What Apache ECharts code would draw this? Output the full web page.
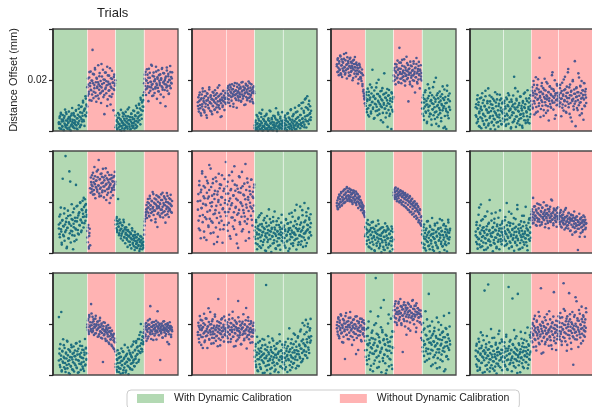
<!DOCTYPE html>
<html><head><meta charset="utf-8">
<script src="https://cdn.jsdelivr.net/npm/echarts@6/dist/echarts.min.js"></script>
<style>html,body{margin:0;padding:0;background:#fff;overflow:hidden}#c{width:592px;height:407px}</style>
</head><body><div id="c"></div>
<script>
// Values are distance offsets in units of 1e-4 mm (200 = 0.02 mm); each panel = 4 trial segments of samples.
// Two interleaved sample runs per segment (pN and pNb).
const segmentTypes = ['GRGR','RRGG','RGRG','GGRR']; // by column: G = with, R = without dynamic calibration
const segmentEdges = [-20,100,200,300,420];
const yTicks = ['', '0.02', ''];
const legendNames = ['With Dynamic Calibration','Without Dynamic Calibration'];

const p1 = [
[34,12,58,27,71,8,45,19,63,38,5,52,29,84,16,41,67,23,9,48,33,76,14,55,39,2,61,26,90,44,18,70,31,11,57,36,82,22,49,7,64,28,101,40,15,73,53,24,96,37,60,112,43,79,20,88,136,58,104,72],
[96,138,182,154,210,121,176,233,160,198,143,318,187,129,222,168,247,150,191,115,205,174,139,258,183,162,227,147,196,110,171,214,156,240,133,188,66,201,165,229,148,179,252,124,193,158,217,137,185,104,207,169,236,145,190,81,212,161,178,199],
[61,22,43,8,35,70,14,52,27,4,46,83,19,38,11,57,30,66,3,41,24,75,16,49,33,9,58,28,92,17,44,6,37,68,21,54,13,80,31,47,10,62,25,99,39,18,71,34,56,107,42,88,26,123,64,48,115,79,140,95],
[152,205,176,232,141,198,167,221,188,117,244,173,209,158,193,260,181,137,216,164,229,195,149,203,172,252,186,126,211,169,238,155,197,180,222,143,207,175,247,162,190,133,226,184,200,97,214,171,237,158,192,224,145,201,177,255,168,212,186,230]];
const p2 = [
[98,132,76,118,151,89,124,61,143,105,167,84,128,112,73,156,95,137,119,52,146,102,130,88,171,114,79,140,108,125,66,153,97,121,138,83,160,110,127,92,148,74,116,135,101,179,87,123,144,109,58,131,94,157,117,139,82,126,149,106],
[131,158,112,147,176,124,162,139,98,171,150,119,183,136,165,107,154,142,188,128,160,145,91,173,137,156,120,181,149,134,167,115,190,143,159,127,174,138,102,168,151,185,133,162,121,177,146,194,130,157,116,170,141,183,125,164,152,109,175,148],
[22,5,41,14,63,9,30,2,48,18,71,26,7,37,55,12,83,20,3,44,16,58,28,8,35,67,11,24,1,50,19,39,6,77,31,13,46,4,25,60,15,33,10,52,21,89,29,0,43,17,65,36,9,27,56,14,40,23,74,32],
[18,42,7,30,61,12,48,24,3,37,70,15,53,27,9,44,82,20,35,5,58,29,66,13,39,91,22,47,8,33,76,17,55,26,101,41,11,63,31,88,19,50,112,36,72,25,124,45,93,14,60,136,38,84,28,118,67,97,43,79]];
const p3 = [
[262,231,285,248,219,273,240,296,226,257,281,212,245,268,234,302,251,222,277,238,259,206,289,244,266,229,253,283,218,247,271,236,255,199,276,241,263,225,290,249,214,268,237,258,223,245,203,264,232,250,212,228,196,241,184,219,162,147,128,108],
[131,98,152,74,118,166,89,140,57,123,182,102,69,147,113,240,86,134,48,159,107,127,78,171,95,145,62,118,201,84,137,105,156,42,124,93,168,71,143,110,226,87,131,53,150,99,120,16,138,82,161,106,67,128,94,8,147,115,76,133],
[196,238,214,263,183,229,251,207,276,220,192,245,326,231,205,268,187,224,256,212,237,199,281,226,178,248,216,291,203,234,259,116,221,245,193,272,228,209,254,175,239,218,264,197,232,151,249,211,286,226,186,243,202,271,223,167,236,258,214,198],
[112,67,141,88,43,125,96,160,72,118,31,104,183,80,137,57,99,150,66,121,24,109,85,172,62,131,93,47,115,209,76,140,54,102,128,19,90,155,70,119,38,106,144,81,128,12,97,163,59,133,87,8,111,178,73,124,50,95,147,83]];
const p4 = [
[62,105,31,88,140,47,113,19,76,128,54,95,11,82,148,39,67,121,25,99,58,136,14,85,43,109,72,167,29,92,51,116,8,78,133,36,103,60,88,22,119,45,152,70,97,33,124,56,81,17,107,64,142,40,91,127,26,75,112,49],
[84,37,118,59,96,20,131,67,45,102,148,28,79,114,53,88,10,123,62,97,34,139,71,213,46,108,85,16,126,57,93,155,39,76,110,24,64,135,50,99,81,13,117,68,146,42,90,105,31,127,73,58,160,44,94,112,30,83,140,66],
[139,104,172,88,150,196,117,65,158,131,211,94,143,180,76,126,163,109,287,137,55,154,120,188,99,147,168,82,133,205,113,159,71,140,124,186,97,152,41,128,174,106,145,91,166,119,230,135,84,157,112,199,139,62,148,101,178,126,150,118],
[131,96,168,112,149,58,127,189,104,143,80,160,121,213,99,136,72,174,115,150,243,93,129,67,182,110,154,139,37,118,200,126,84,163,107,146,19,133,171,90,152,121,226,101,138,62,177,113,148,196,86,131,159,44,124,187,97,142,165,110]];
const p5 = [
[96,143,62,118,178,84,33,127,291,71,104,155,48,112,380,89,136,24,99,166,58,120,320,77,148,41,107,191,85,130,15,115,174,68,138,96,267,52,124,185,90,147,73,160,108,196,131,82,171,119,205,154,100,180,143,211,126,192,168,150],
[86,42,110,18,67,95,30,236,278,251,305,262,229,291,247,337,270,215,283,256,320,240,297,265,365,233,288,252,310,224,274,299,245,330,261,218,285,243,303,268,208,293,250,316,236,277,258,196,289,271,239,306,255,282,226,297,264,248,318,279],
[128,97,141,82,115,212,104,70,131,88,119,57,95,76,108,49,86,121,63,93,38,79,101,58,71,24,90,45,67,82,31,60,74,18,53,88,40,66,27,58,12,71,46,35,62,20,49,73,31,55,8,43,66,26,50,37,15,57,30,44],
[72,108,134,160,151,188,137,176,212,158,195,143,224,171,186,128,205,162,239,180,149,197,214,166,133,190,226,175,102,201,158,183,218,147,192,170,230,155,208,181,139,196,222,164,187,119,210,173,235,152,199,178,141,215,168,193,228,161,184,204]];
const p6 = [
[170,231,96,282,145,205,58,248,176,320,121,193,263,84,215,140,298,187,51,236,162,274,108,221,345,134,196,77,259,183,225,119,290,152,35,212,244,168,100,281,137,229,64,200,311,158,254,92,189,267,126,218,40,175,243,110,290,161,208,357],
[145,262,190,87,233,118,305,173,214,56,251,139,195,283,104,226,160,340,128,244,181,72,265,150,207,20,238,169,297,113,199,255,142,318,185,93,229,157,272,124,211,48,247,178,292,133,219,165,82,260,197,230,146,288,175,108,240,216,186,268],
[64,102,38,121,80,15,96,57,140,73,26,112,88,47,156,69,104,31,83,128,52,94,10,76,118,61,145,43,90,22,108,71,133,55,84,4,99,66,37,124,79,50,163,92,18,67,110,45,86,29,136,74,58,101,13,81,119,48,95,62],
[77,40,108,59,92,21,130,68,45,115,83,8,97,154,53,74,121,36,88,62,142,28,105,80,50,167,71,98,14,113,57,86,134,42,95,70,182,33,119,65,89,148,24,103,76,196,51,127,84,160,39,111,93,175,61,138,80,101,152,69]];
const p7 = [
[185,206,172,218,193,229,180,211,198,235,187,220,204,242,195,228,213,250,201,237,222,259,209,244,226,215,253,203,238,219,247,207,231,192,245,214,236,199,224,210,241,188,217,202,230,176,212,195,221,183,206,168,199,178,190,158,184,165,147,141],
[102,74,118,48,91,129,63,25,85,110,40,71,98,16,57,82,122,33,66,94,8,52,79,107,28,61,88,45,114,19,70,36,96,55,3,77,42,101,24,64,89,12,50,83,31,68,105,20,58,92,37,74,6,47,86,29,62,95,15,53],
[226,248,212,239,257,220,244,203,231,252,215,238,198,226,246,207,233,190,219,241,201,228,184,212,235,196,220,176,207,229,189,214,168,199,223,181,204,162,191,213,173,196,155,183,203,164,188,146,174,193,138,161,180,128,152,168,117,140,107,126],
[40,88,21,65,112,33,78,54,10,96,46,71,125,27,59,84,15,102,50,37,74,137,24,63,90,8,55,108,42,81,30,67,118,19,93,48,76,3,60,99,35,85,128,26,70,52,114,12,82,44,105,31,66,91,57,130,38,79,62,95]];
const p8 = [
[84,43,121,62,17,97,150,56,33,108,75,190,48,89,26,132,66,101,12,79,58,144,38,92,70,163,21,114,53,86,208,45,76,30,127,64,99,7,82,51,118,36,91,159,60,24,105,72,44,138,87,15,68,110,55,96,34,80,125,49],
[63,102,28,85,141,47,74,196,36,93,59,120,18,81,107,40,66,154,25,90,52,115,71,9,98,44,133,61,83,30,172,56,95,14,78,112,39,69,124,50,87,21,105,65,146,33,76,58,181,42,97,70,11,88,118,54,136,79,101,60],
[152,128,171,140,216,118,159,135,183,147,110,166,138,194,124,155,175,132,149,108,188,143,161,120,177,136,153,199,129,145,168,114,186,141,157,126,172,150,97,163,137,181,122,154,145,206,131,160,116,174,139,150,127,167,143,103,158,133,179,140],
[132,155,113,144,168,124,100,149,137,118,162,128,92,141,115,176,123,107,146,133,96,158,119,139,86,127,151,111,134,72,148,104,125,163,98,137,116,84,143,109,128,12,121,95,154,113,132,78,118,140,103,126,90,147,108,122,64,130,99,117]];
const p9 = [
[227,84,39,121,62,247,18,95,53,140,71,30,106,47,12,88,65,134,26,77,101,42,58,4,91,35,118,69,22,83,50,112,14,74,96,38,61,125,27,80,9,103,56,44,131,72,20,87,49,114,33,66,98,16,79,141,41,107,60,85],
[198,176,220,161,235,189,207,174,278,195,168,228,182,211,157,199,186,221,164,193,176,209,150,183,197,160,214,171,188,146,202,165,179,51,191,156,173,205,142,168,184,134,177,159,196,127,170,152,185,139,163,118,174,148,156,106,162,131,143,92],
[43,78,20,59,97,32,66,12,85,48,25,71,104,39,56,8,90,63,29,118,45,74,17,52,83,36,64,3,96,58,27,81,44,112,69,21,88,50,131,61,34,99,73,126,47,108,82,141,95,60,157,115,86,200,103,137,92,149,121,166],
[145,178,201,159,186,134,192,170,214,151,183,197,166,270,175,141,205,188,162,194,179,208,155,186,172,199,139,191,168,206,182,157,196,174,59,188,163,202,177,146,193,184,211,167,180,153,199,174,189,129,196,171,185,160,207,178,192,149,187,172]];
const p10 = [
[168,205,142,186,231,157,194,118,176,214,149,188,163,240,129,197,172,152,221,181,106,190,166,208,138,175,247,159,199,183,146,218,170,125,193,161,229,178,134,187,154,211,169,298,143,192,176,116,203,160,185,222,148,174,197,131,182,157,214,170],
[184,152,207,168,129,191,236,160,176,204,141,187,169,222,150,196,112,178,214,163,188,133,201,175,155,290,183,147,210,166,194,121,179,202,158,186,238,171,142,197,163,215,179,104,190,156,226,173,140,199,168,184,211,151,177,128,193,165,205,174],
[96,54,121,31,78,150,62,15,103,84,42,133,70,24,91,58,116,8,81,47,138,66,101,35,353,75,19,110,55,89,40,127,64,5,98,73,28,143,60,86,50,114,37,79,21,104,68,46,125,83,11,92,57,132,71,33,97,63,119,26],
[69,108,41,85,22,129,57,94,74,12,113,63,90,183,38,101,77,52,140,30,88,66,121,47,97,158,72,26,111,82,59,146,93,35,119,71,171,104,50,133,86,204,63,124,97,160,78,113,216,91,140,67,189,108,150,86,175,127,220,152]];
const p11 = [
[183,208,159,226,191,144,214,176,238,163,197,129,185,219,150,202,172,63,231,188,157,209,178,141,196,224,166,187,247,153,205,180,118,193,216,168,137,199,182,229,161,190,145,212,175,98,203,186,156,221,170,194,132,208,179,159,215,185,151,200],
[134,71,180,98,42,153,117,210,63,125,88,249,36,145,104,174,15,118,83,196,57,139,380,96,162,28,111,230,75,148,52,127,92,187,11,107,168,66,136,294,80,121,46,158,99,19,140,73,202,114,34,95,131,61,221,86,150,24,109,170],
[231,270,208,255,289,222,247,196,264,238,280,214,251,227,298,243,203,267,233,90,258,219,285,241,190,273,229,256,211,263,246,182,277,235,252,174,268,225,244,291,216,260,238,199,271,229,249,169,281,237,212,262,243,226,254,207,239,231,145,198],
[168,109,204,133,75,182,121,250,93,155,58,139,190,102,318,127,171,84,146,35,119,210,96,162,70,130,185,112,47,153,88,225,124,66,141,177,101,30,158,116,196,80,137,54,170,106,232,91,148,22,128,181,74,114,160,62,143,98,190,120]];
const p12 = [
[96,41,122,63,17,88,142,55,104,28,79,167,47,115,72,9,93,136,58,331,83,36,108,66,153,22,99,75,49,128,14,86,61,180,38,112,70,25,95,53,146,81,33,119,64,6,102,77,44,161,90,57,125,30,84,68,139,19,98,73],
[87,52,128,68,34,104,158,76,23,95,61,345,113,42,84,137,58,99,15,72,121,48,90,176,63,107,29,81,152,55,96,318,70,38,118,83,11,101,66,142,46,89,125,59,27,109,77,165,93,50,133,71,186,98,40,115,80,60,148,92],
[146,183,128,204,161,110,192,175,232,137,168,96,214,155,187,143,247,170,121,198,159,340,181,133,209,164,88,192,150,226,174,129,185,160,238,141,200,167,115,179,152,218,136,190,171,102,207,158,184,325,147,196,165,125,213,176,140,189,162,230],
[172,205,139,243,161,188,118,226,180,149,360,197,167,252,132,211,184,95,230,158,199,174,321,143,218,189,126,207,165,247,152,40,193,178,235,140,201,169,289,155,222,186,110,213,170,240,147,196,181,268,162,209,134,228,175,192,150,218,185,246]];

const p1b = [
[28,51,9,66,37,17,44,3,59,24,73,12,40,31,55,6,47,21,68,35,15,62,42,26,79,10,50,33,87,57,20,94,46,71,118,38,84,63,127,99],
[172,206,145,231,188,162,119,197,224,154,180,241,136,209,169,191,127,215,176,150,263,184,158,202,141,229,170,195,98,218,183,160,246,174,134,204,189,165,221,186],
[15,39,6,52,28,64,19,44,2,33,71,23,48,11,59,36,17,85,42,26,55,9,67,31,46,20,78,38,58,13,90,49,72,103,61,130,82,112,96,121],
[187,221,163,198,242,175,209,150,228,192,171,256,184,139,214,196,167,233,180,205,156,219,188,110,201,243,170,227,194,161,208,182,249,176,215,147,199,231,189,206]];
const p2b = [
[113,87,141,102,69,128,96,155,118,80,136,107,62,148,121,91,163,110,134,76,125,99,150,115,84,142,129,104,170,93,138,117,55,146,122,100,158,131,112,127],
[148,126,169,139,111,181,154,133,163,145,95,177,140,158,122,186,150,131,166,143,173,118,155,192,136,161,147,104,179,152,128,167,144,187,134,159,149,115,171,156],
[12,34,4,26,57,16,41,8,22,68,31,2,47,19,38,10,62,25,6,43,15,80,29,11,51,36,3,24,59,18,45,7,33,72,21,14,49,28,9,39],
[31,10,54,22,40,4,68,35,16,49,26,85,13,44,60,21,37,7,73,29,52,18,99,41,63,24,110,47,33,79,15,57,128,38,90,62,105,45,70,54]];
const p3b = [
[254,279,233,265,241,292,221,258,272,237,283,249,227,306,262,244,274,216,255,287,232,266,247,208,279,251,236,263,225,248,186,233,259,210,205,226,176,155,137,124],
[109,142,85,124,63,154,100,131,76,171,115,92,138,51,126,104,188,80,145,112,67,133,97,158,120,34,103,146,88,129,71,165,109,140,59,119,95,152,83,126],
[218,247,201,233,261,210,240,189,268,225,244,206,279,231,215,253,195,238,220,266,208,242,228,183,257,217,236,199,273,224,246,211,263,192,234,255,219,241,204,227],
[88,131,59,112,152,76,103,36,128,94,167,68,117,45,140,85,106,192,73,124,28,97,148,64,113,82,135,51,101,175,90,122,16,109,78,158,61,138,93,117]];
const p4b = [
[93,56,124,37,102,70,16,87,131,49,110,64,28,96,158,42,81,117,22,73,139,58,105,33,89,126,48,76,6,112,63,144,35,98,53,121,80,27,108,69],
[71,109,44,88,25,125,61,97,140,52,83,15,115,73,104,38,92,168,57,120,30,79,101,47,135,66,89,20,111,58,94,151,41,77,118,34,86,128,55,98],
[118,158,92,139,181,108,146,72,167,123,203,98,152,131,86,176,114,144,60,161,127,101,192,135,80,153,118,175,95,140,219,111,164,130,48,147,121,184,103,137],
[142,108,181,126,157,91,138,202,117,164,75,149,129,230,106,171,140,53,158,122,195,97,146,274,116,168,135,82,152,210,111,175,127,69,160,141,188,100,155,131]];
const p5b = [
[112,74,151,93,40,129,106,66,175,82,122,19,98,145,57,114,280,87,133,70,160,101,46,125,92,183,138,76,155,110,199,128,88,168,141,216,117,187,161,142],
[61,100,24,78,254,296,268,241,315,277,230,301,259,284,248,326,265,222,290,257,312,238,276,296,261,243,332,271,228,287,252,306,266,216,293,247,280,258,302,270],
[112,136,90,125,103,77,117,94,68,109,84,130,61,100,73,91,52,86,65,112,44,78,57,97,35,69,50,83,22,62,40,74,28,55,16,48,64,33,41,21],
[90,124,145,171,163,199,179,146,214,187,157,203,175,231,166,193,121,210,184,153,221,177,196,141,208,170,236,160,189,216,148,200,182,224,163,194,172,211,187,158]];
const p6b = [
[203,127,266,89,238,176,312,149,222,61,257,190,133,283,214,102,247,167,331,125,199,274,80,231,155,296,185,43,241,208,118,269,143,219,305,172,93,252,196,160],
[232,110,279,161,204,66,246,187,318,139,225,94,268,177,213,37,252,156,301,121,236,194,85,262,168,226,143,349,190,115,276,209,58,243,182,287,130,221,164,257],
[88,55,129,73,34,106,91,148,62,20,114,81,43,98,137,67,8,104,78,52,171,86,28,119,94,64,141,39,100,75,16,125,84,58,110,31,92,70,150,47],
[60,102,29,86,133,71,48,116,90,17,98,64,158,80,38,107,74,125,55,189,93,32,139,68,111,84,46,168,99,61,121,77,27,145,89,109,57,131,82,117]];
const p7b = [
[196,177,214,189,225,201,239,186,218,209,248,197,231,216,255,205,240,223,211,249,229,200,236,218,244,207,228,196,234,215,201,221,189,208,183,196,171,177,153,160],
[66,95,35,80,113,52,22,90,71,120,44,99,61,11,84,106,38,74,127,56,92,27,68,100,49,82,14,63,116,41,88,57,97,33,76,5,59,104,46,83],
[237,218,254,229,211,245,224,236,203,227,243,197,222,235,186,216,228,180,209,224,170,203,218,160,194,210,151,186,200,142,178,193,134,168,184,121,157,171,112,144],
[73,36,101,57,18,89,64,124,43,80,29,107,69,48,92,13,76,58,115,39,84,65,22,97,51,133,70,44,87,26,109,61,35,94,72,6,81,120,53,88]];
const p8b = [
[69,110,35,94,54,178,80,23,127,63,99,41,86,143,57,14,105,73,48,118,90,31,66,155,79,102,40,134,61,88,19,112,75,52,96,167,45,83,116,70],
[96,54,128,77,31,109,65,89,162,45,117,72,24,94,58,137,82,39,103,67,188,50,111,86,16,98,62,146,75,43,121,84,57,108,28,92,69,131,48,80],
[138,163,116,151,182,129,145,170,107,158,134,191,123,149,165,112,178,141,130,160,101,152,136,186,118,147,172,125,142,210,131,157,109,168,137,150,122,175,144,133],
[146,121,160,104,139,128,151,112,135,170,98,142,124,109,156,118,133,88,148,127,102,139,115,81,131,106,143,95,123,110,64,136,100,119,83,128,112,141,93,115]];
const p9b = [
[57,103,31,76,14,92,48,117,66,24,84,39,131,55,8,97,70,33,109,61,20,87,45,74,124,29,93,58,11,81,115,42,68,99,25,52,88,37,104,63],
[187,214,169,228,194,180,241,206,173,219,190,163,232,199,178,210,152,188,224,169,196,143,181,207,160,176,134,192,166,151,184,122,171,140,158,113,149,136,101,128],
[31,62,13,47,84,26,70,5,55,38,93,19,67,44,10,78,51,108,33,61,87,23,74,46,119,58,35,96,64,133,80,112,52,141,90,168,124,101,152,130],
[166,191,152,204,177,143,198,183,219,160,189,171,208,137,195,180,163,213,174,250,188,156,201,182,168,194,147,210,176,186,198,161,179,203,170,121,192,184,158,178]];
const p10b = [
[157,193,128,178,216,149,183,106,203,166,135,222,172,155,190,262,141,198,169,123,211,160,184,145,237,176,152,194,113,182,207,164,137,218,171,150,189,229,160,178],
[171,198,144,186,218,159,130,203,177,248,150,192,165,114,207,183,139,226,172,156,195,121,184,209,162,136,199,175,263,148,187,213,158,180,126,203,168,151,193,178],
[71,112,40,88,18,127,62,95,30,106,76,141,52,84,9,118,66,97,38,152,81,58,24,109,90,47,135,69,14,101,79,123,43,86,60,160,33,94,73,51],
[85,49,118,67,31,104,78,142,58,92,19,124,70,107,44,163,88,61,131,97,36,152,81,115,66,178,103,55,139,92,194,117,76,168,128,201,99,146,183,135]];
const p11b = [
[196,170,221,152,205,184,233,166,193,127,214,178,202,243,158,189,211,140,197,225,175,206,149,186,218,162,198,82,230,181,155,209,172,194,137,220,185,164,204,176],
[97,152,58,121,185,76,137,21,109,166,84,143,44,126,93,203,69,115,158,31,132,87,264,102,176,55,141,79,118,6,154,95,128,237,64,112,148,39,171,106],
[254,226,279,239,205,262,248,287,218,241,270,196,257,233,275,212,249,264,158,237,283,226,252,206,268,243,230,294,219,258,236,272,185,247,262,225,240,206,253,230],
[137,92,177,118,52,158,104,218,83,141,64,193,126,99,155,41,132,172,78,116,146,26,101,207,88,139,60,122,166,95,148,15,112,184,72,129,157,106,243,134]];
const p12b = [
[73,115,33,92,58,130,21,84,106,48,156,68,97,12,88,121,39,76,355,101,62,28,113,80,145,54,94,17,71,126,45,89,107,36,173,82,60,99,131,52],
[71,113,40,92,150,58,20,104,82,131,47,97,66,300,118,35,86,143,61,101,8,77,124,53,90,169,69,112,32,95,138,74,51,109,84,26,120,63,157,88],
[167,132,198,155,220,141,184,112,209,162,178,126,230,151,193,84,172,205,146,188,121,215,164,138,199,175,250,148,186,116,203,159,229,134,181,168,98,194,153,211],
[187,151,224,170,132,203,178,259,145,196,163,221,118,189,210,156,238,173,102,200,183,147,228,166,305,191,139,214,177,255,160,199,124,219,184,234,155,206,171,262]];

const panels = [p1,p2,p3,p4,p5,p6,p7,p8,p9,p10,p11,p12];
const panelsB = [p1b,p2b,p3b,p4b,p5b,p6b,p7b,p8b,p9b,p10b,p11b,p12b];

// layout (pixels)
const colLeft = [53,192,331,470], rowTop = [29,151,273], PW = 125, PH = 102;
const GREEN_BG = '#b3d9b3', RED_BG = '#ffb3b3';
const GREEN_PT = '#1e6f7f', RED_PT = '#4d5892';
const FONT = 'Liberation Sans';

const grids = [], xAxes = [], yAxes = [], series = [], frames = [];
panels.forEach((segs, k) => {
  const r = Math.floor(k/4), c = k % 4;
  const types = segmentTypes[c];
  grids.push({left: colLeft[c], top: rowTop[r], width: PW, height: PH, show: false});
  xAxes.push({gridIndex: k, type: 'value', min: -20, max: 420,
    axisLine: {show: false, onZero: false}, axisTick: {show: false}, axisLabel: {show: false}, splitLine: {show: false}});
  const ya = {gridIndex: k, type: 'value', min: 0, max: 0.04, interval: 0.02, z: 120, position: 'left',
    axisLine: {show: true, onZero: false, lineStyle: {color: '#2a2a2a', width: 1.6}}, splitLine: {show: false},
    axisTick: {show: true, length: 4, lineStyle: {color: '#222', width: 1.2}},
    axisLabel: {show: k === 0, margin: 6, fontFamily: FONT, fontSize: 10, color: '#222',
      formatter: (v) => yTicks[Math.round(v / 0.02)] || ''}};
  if (k === 0) {
    Object.assign(ya, {name: 'Distance Offset (mm)', nameLocation: 'middle', nameGap: 34,
      nameTextStyle: {fontFamily: FONT, fontSize: 11, color: '#222'}});
  }
  yAxes.push(ya);
  const gPts = [], rPts = [], areas = [];
  segs.forEach((vals, s) => {
    const x0 = s * 100;
    const isG = types[s] === 'G';
    const target = isG ? gPts : rPts;
    vals.forEach((v, i) => { target.push([x0 + (i + 0.5) * 100 / vals.length, v / 10000]); });
    const extra = panelsB[k][s];
    extra.forEach((v, j) => { target.push([x0 + (j + 0.25) * 100 / extra.length, v / 10000]); });
    areas.push([{xAxis: segmentEdges[s], itemStyle: {color: isG ? GREEN_BG : RED_BG}}, {xAxis: segmentEdges[s+1]}]);
  });
  series.push({type: 'scatter', name: legendNames[0], xAxisIndex: k, yAxisIndex: k, data: gPts,
    symbol: 'circle', symbolSize: 2.6, itemStyle: {color: GREEN_PT, opacity: 1}, z: 3, silent: true,
    markArea: {silent: true, itemStyle: {opacity: 1}, label: {show: false}, data: areas}});
  series.push({type: 'scatter', name: legendNames[1], xAxisIndex: k, yAxisIndex: k, data: rPts,
    symbol: 'circle', symbolSize: 2.6, itemStyle: {color: RED_PT, opacity: 1}, z: 3, silent: true,
    markLine: {silent: true, symbol: 'none', label: {show: false}, animation: false,
      lineStyle: {color: 'rgba(255,255,255,0.55)', width: 1, type: 'solid'},
      data: [{xAxis: segmentEdges[1]}, {xAxis: segmentEdges[2]}, {xAxis: segmentEdges[3]}]}});
  frames.push({type: 'rect', silent: true, z: 100,
    shape: {x: colLeft[c], y: rowTop[r], width: PW, height: PH},
    style: {fill: 'none', stroke: '#4a4a4a', lineWidth: 1.3}});
});

const chart = echarts.init(document.getElementById('c'), null, {renderer: 'canvas'});
chart.setOption({
  animation: false,
  backgroundColor: '#fff',
  title: {text: 'Trials', left: 97, top: 7, padding: 0,
    textStyle: {fontFamily: FONT, fontSize: 13, fontWeight: 'normal', color: '#222'}},
  legend: {left: 127, top: 390, orient: 'horizontal', selectedMode: false,
    padding: [3, 10, 5, 10], itemGap: 48, itemWidth: 27, itemHeight: 9,
    borderColor: '#cccccc', borderWidth: 1, borderRadius: 4, backgroundColor: '#fff',
    textStyle: {fontFamily: FONT, fontSize: 10.5, color: '#222', padding: [0, 0, 0, 5]},
    data: [
      {name: legendNames[0], icon: 'rect', itemStyle: {color: GREEN_BG}},
      {name: legendNames[1], icon: 'rect', itemStyle: {color: RED_BG}}
    ]},
  grid: grids, xAxis: xAxes, yAxis: yAxes, series: series,
  graphic: frames
});
</script></body></html>
